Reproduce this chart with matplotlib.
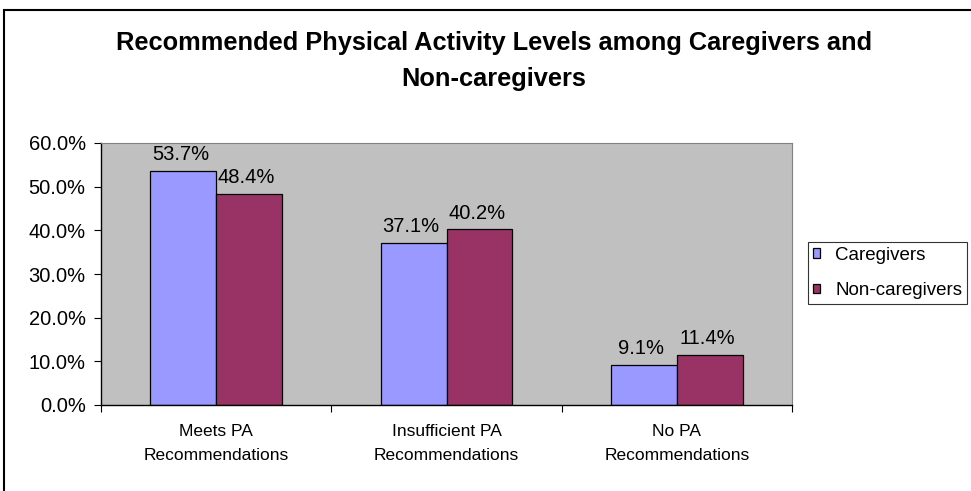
import numpy as np
import matplotlib.pyplot as plt
from matplotlib.patches import Rectangle
from matplotlib.ticker import FuncFormatter

plt.rcParams['font.family'] = ['Liberation Sans', 'DejaVu Sans']

categories = ['Meets PA\nRecommendations', 'Insufficient PA\nRecommendations', 'No PA\nRecommendations']
caregivers = [53.7, 37.1, 9.1]
non_caregivers = [48.4, 40.2, 11.4]
series_names = ['Caregivers', 'Non-caregivers']
colors = ['#9999FF', '#993366']

dpi = 100
fig = plt.figure(figsize=(971 / dpi, 491 / dpi), dpi=dpi)

# outer chart border (runs off the right and bottom edge)
fig.patches.append(Rectangle((4 / 971, -0.1), 1.2, (491 - 10) / 491 + 0.1,
                             transform=fig.transFigure, fill=False,
                             edgecolor='black', linewidth=1.5, clip_on=False))

ax = fig.add_axes([101 / 971, (491 - 405) / 491, (792 - 101) / 971, (405 - 143) / 491])
ax.set_facecolor('#C0C0C0')

x = np.arange(len(categories))
w = 1 / 3.5
for i, (vals, name) in enumerate([(caregivers, series_names[0]), (non_caregivers, series_names[1])]):
    pos = x + (i - 0.5) * w
    ax.bar(pos, vals, width=w, color=colors[i], edgecolor='black', linewidth=0.9, label=name)
    for p, v in zip(pos, vals):
        ax.annotate('%.1f%%' % v, (p, v), xytext=(-2, 5), textcoords='offset points',
                    ha='center', va='bottom', fontsize=14.5)

ax.set_xlim(-0.5, 2.5)
ax.set_ylim(0, 60)
ax.set_yticks(np.arange(0, 61, 10))
ax.yaxis.set_major_formatter(FuncFormatter(lambda v, p: '%.1f%%' % v))
ax.set_xticks([-0.5, 0.5, 1.5, 2.5])
ax.set_xticklabels([])
ax.set_xticks(x, minor=True)
ax.set_xticklabels(categories, minor=True, fontsize=12.5, linespacing=1.75)
ax.tick_params(axis='x', which='minor', length=0, pad=14)
ax.tick_params(axis='x', which='major', length=5, direction='out')
ax.tick_params(axis='y', length=5, direction='out', labelsize=14.5, pad=6)
for s in ['top', 'right']:
    ax.spines[s].set_color('#808080')
    ax.spines[s].set_linewidth(0.8)
for s in ['left', 'bottom']:
    ax.spines[s].set_linewidth(1)

fig.text(494 / 971, 1 - 61 / 491, 'Recommended Physical Activity Levels among Caregivers and\nNon-caregivers',
         ha='center', va='center', fontsize=18.3, fontweight='bold', linespacing=1.6)

leg = ax.legend(loc='center left', bbox_to_anchor=(808 / 971, (491 - 273) / 491),
                bbox_transform=fig.transFigure, frameon=True, fancybox=False,
                edgecolor='black', fontsize=13.5, handlelength=0.4, handleheight=0.4,
                handletextpad=0.8, borderpad=0.25, labelspacing=1.0, borderaxespad=0)
leg.get_frame().set_linewidth(0.8)

fig.savefig('out.png', dpi=dpi)
